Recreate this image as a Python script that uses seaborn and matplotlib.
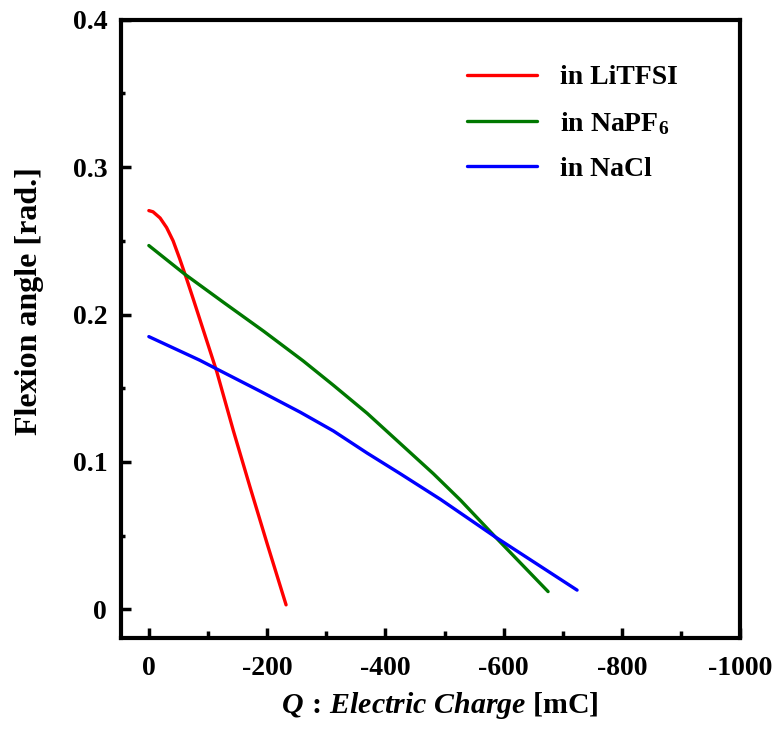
import numpy as np
import pandas as pd
import matplotlib
matplotlib.use("Agg")
import matplotlib.pyplot as plt
import seaborn as sns
from matplotlib.ticker import MultipleLocator

# --- data ---
q_litfsi = [0, -7, -19, -30, -41, -52, -64, -75, -115, -143, -171, -200, -232]
a_litfsi = [0.2705, 0.2697, 0.2655, 0.259, 0.250, 0.238, 0.224, 0.2106,
            0.161, 0.121, 0.083, 0.0445, 0.003]

q_napf6 = [0, -60, -126, -194, -261, -312, -369, -425, -481, -527, -586, -675]
a_napf6 = [0.2468, 0.2276, 0.2083, 0.1887, 0.1685, 0.152, 0.133, 0.1125, 0.092,
           0.074, 0.049, 0.012]

q_nacl = [0, -86, -115, -188, -256, -312, -369, -425, -493, -586, -724]
a_nacl = [0.185, 0.169, 0.163, 0.148, 0.1337, 0.121, 0.106, 0.092, 0.0746, 0.049, 0.013]

labels = ["in LiTFSI", "in NaPF$_6$", "in NaCl"]
colors = ["#ff0000", "#007800", "#0000ff"]

x_ticks = [0, -200, -400, -600, -800, -1000]
y_ticks = [0, 0.1, 0.2, 0.3, 0.4]
y_ticklabels = ["0", "0.1", "0.2", "0.3", "0.4"]

frames = []
for q, a, lab in zip([q_litfsi, q_napf6, q_nacl], [a_litfsi, a_napf6, a_nacl], labels):
    frames.append(pd.DataFrame({"Q": q, "angle": a, "series": lab}))
df = pd.concat(frames, ignore_index=True)

sns.set_theme(style="ticks")
plt.rcParams["font.family"] = ["Liberation Serif", "DejaVu Serif"]
plt.rcParams["font.weight"] = "bold"
plt.rcParams["text.color"] = "black"
plt.rcParams["axes.labelcolor"] = "black"
plt.rcParams["xtick.color"] = "black"
plt.rcParams["ytick.color"] = "black"
plt.rcParams["mathtext.fontset"] = "custom"
plt.rcParams["mathtext.rm"] = "Liberation Serif:bold"
plt.rcParams["mathtext.it"] = "Liberation Serif:italic:bold"
plt.rcParams["mathtext.bf"] = "Liberation Serif:bold"

fig = plt.figure(figsize=(7.76, 7.32), dpi=100)
ax = fig.add_axes([0.156, 0.128, 0.798, 0.845])

sns.lineplot(data=df, x="Q", y="angle", hue="series", hue_order=labels,
             palette=colors, sort=False, estimator=None, linewidth=2.4, ax=ax)

ax.set_xlim(47, -1000)
ax.set_ylim(-0.0197, 0.4)
ax.set_xticks(x_ticks)
ax.set_xticklabels([str(t) for t in x_ticks])
ax.xaxis.set_minor_locator(MultipleLocator(100))
ax.set_yticks(y_ticks)
ax.set_yticklabels(y_ticklabels)
ax.yaxis.set_minor_locator(MultipleLocator(0.05))

for s in ax.spines.values():
    s.set_linewidth(3)
    s.set_color("black")

ax.tick_params(axis="both", which="major", direction="in", width=2.5, length=7,
               labelsize=20, colors="black")
ax.tick_params(axis="x", which="major", pad=13)
ax.tick_params(axis="y", which="major", pad=10)
ax.tick_params(axis="x", which="minor", direction="in", width=2.5, length=5)
ax.tick_params(axis="y", which="minor", direction="in", width=2.5, length=3)
for lbl in ax.get_xticklabels() + ax.get_yticklabels():
    lbl.set_fontweight("bold")

ax.set_xlabel(r"$\mathit{Q\,:\,Electric\ Charge}$ [mC]", fontsize=21.5,
              fontweight="bold")
ax.xaxis.set_label_coords(0.515, -0.083)
ax.set_ylabel("Flexion angle [rad.]", fontsize=23, fontweight="bold")
ax.yaxis.set_label_coords(-0.125, 0.545)

leg = ax.legend(loc="upper right", frameon=False, fontsize=20, handlelength=2.5,
                handletextpad=0.85, labelspacing=0.7, borderaxespad=1.0,
                bbox_to_anchor=(0.962, 0.99))
for t in leg.get_texts():
    t.set_fontweight("bold")
for h in leg.get_lines():
    h.set_linewidth(2.4)

fig.savefig("out.png", dpi=100)
